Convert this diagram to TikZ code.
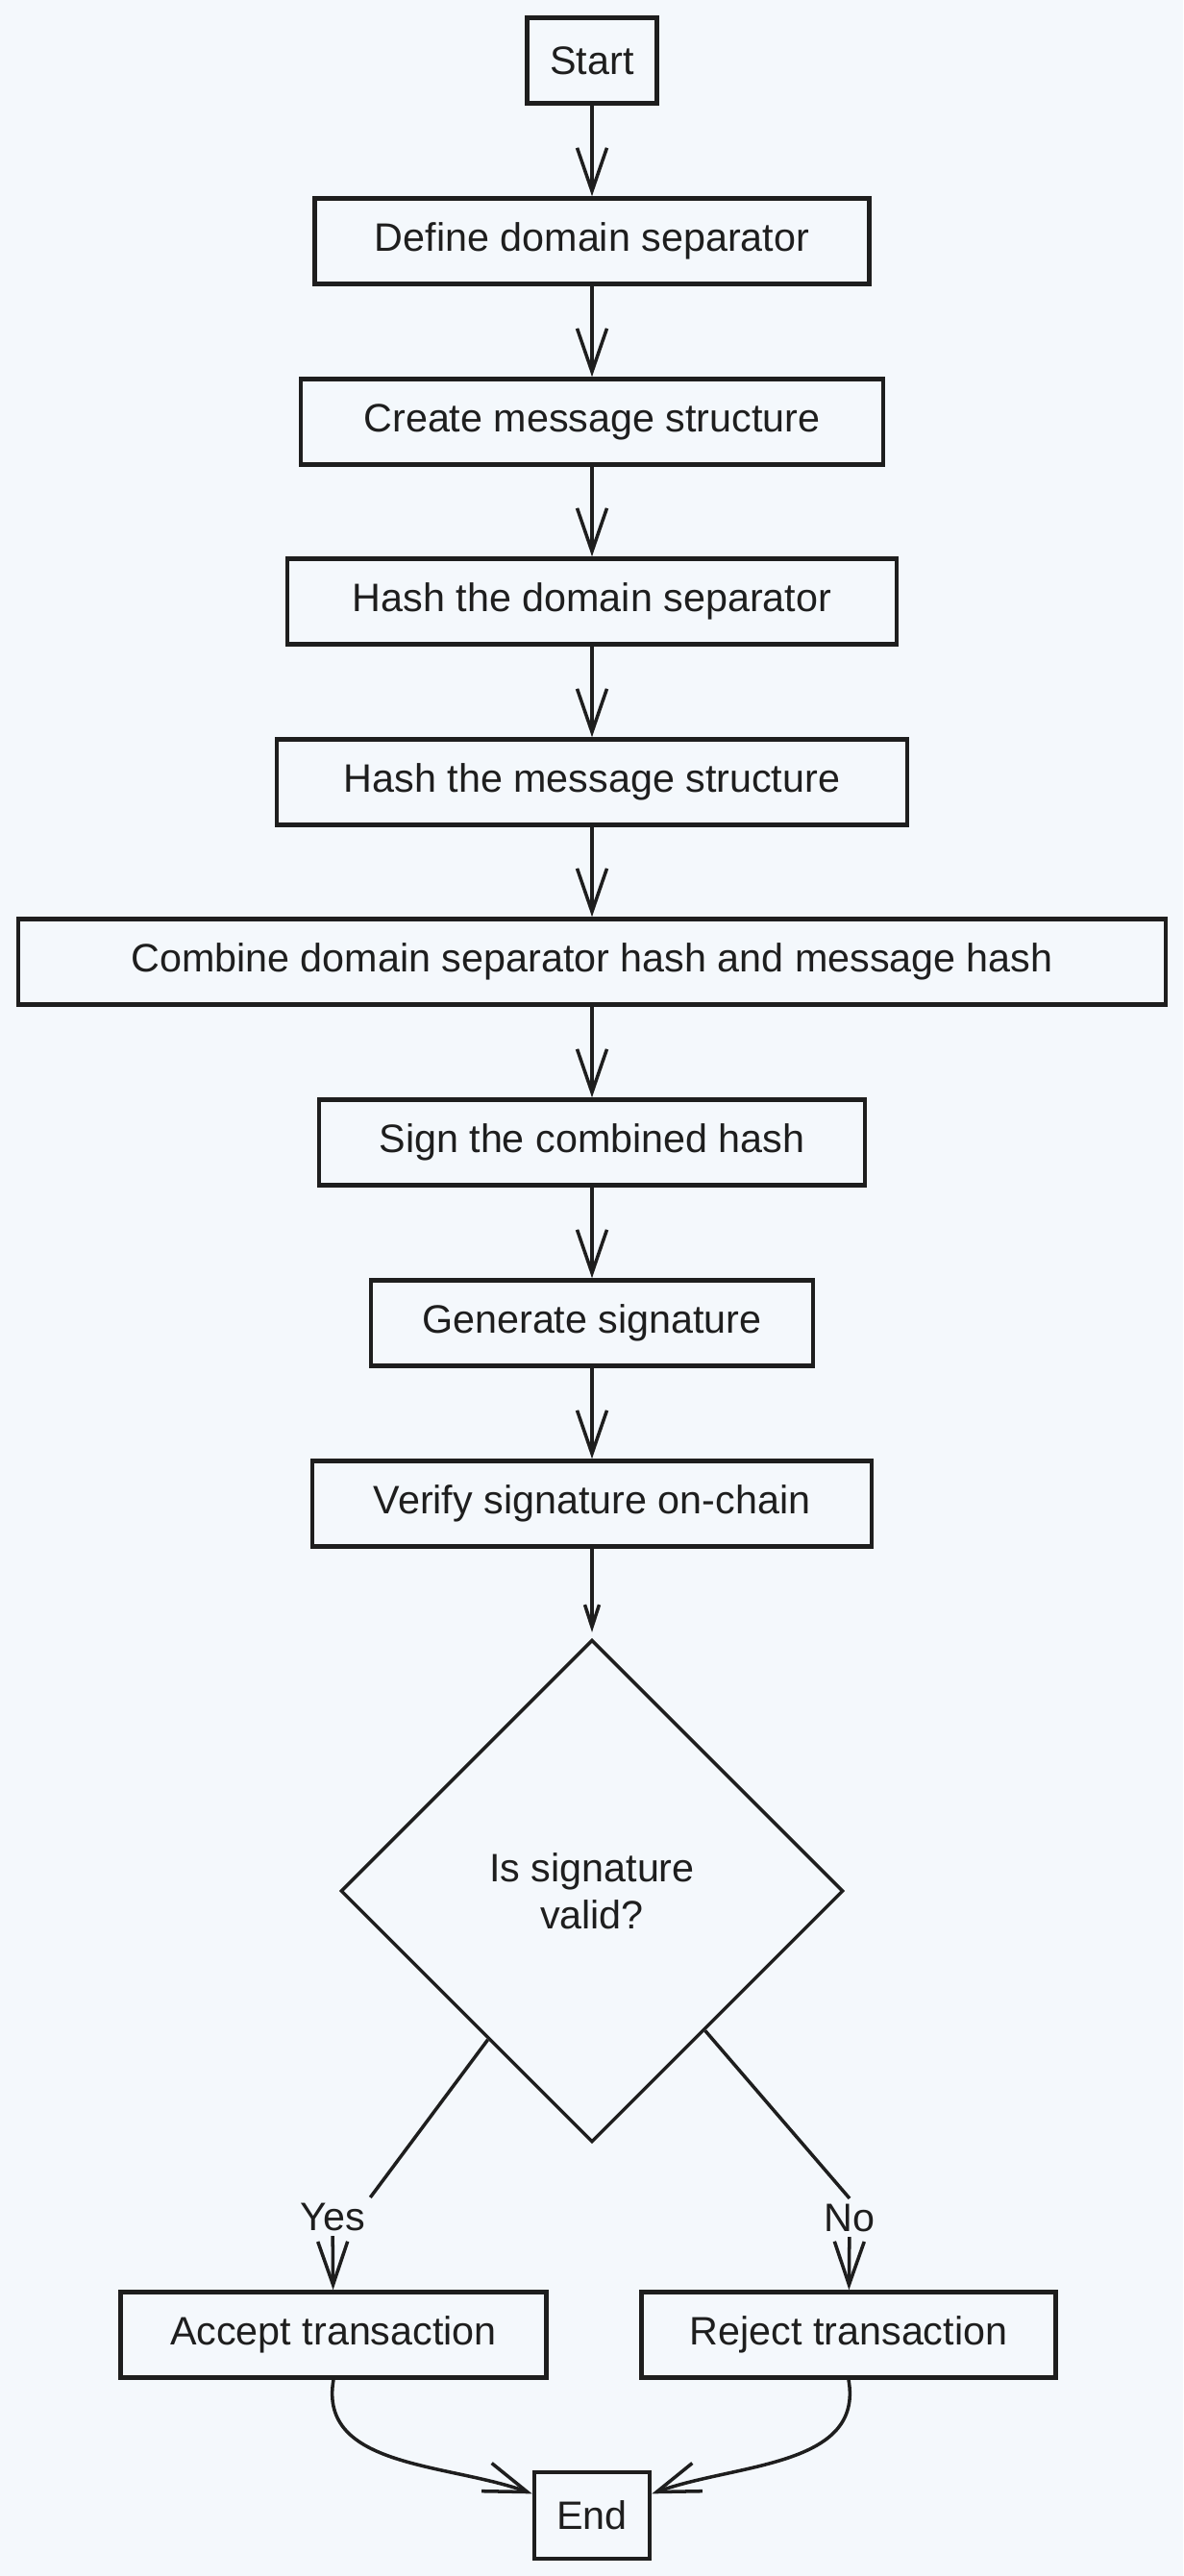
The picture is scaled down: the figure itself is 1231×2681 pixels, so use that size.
\documentclass[tikz,border=0pt]{standalone}
\usepackage{fontspec}
\setmainfont{Liberation Sans}
\usetikzlibrary{arrows.meta,shapes.geometric}
\definecolor{paper}{RGB}{244,248,252}
\definecolor{ink}{RGB}{30,30,30}
\tikzstyle{process}=[draw=ink,rectangle,line width=2.6pt,minimum height=1.78cm,inner sep=0pt,text=ink,font=\fontsize{23.5}{29}\selectfont]
\tikzstyle{terminal}=[process,minimum width=2.6cm]
\tikzstyle{decision}=[draw=ink,diamond,aspect=1,line width=2pt,minimum size=10.46cm,inner sep=0pt,align=center,text=ink,font=\fontsize{23.5}{28}\selectfont]
\tikzstyle{answer}=[inner sep=3pt,text=ink,font=\fontsize{23.5}{29}\selectfont]
\tikzstyle{link}=[draw=ink,line width=2pt,-]
\tikzstyle{flow}=[link,-{Straight Barb[length=0.9cm,width=0.62cm]}]
\tikzstyle{shortflow}=[link,-{Straight Barb[length=0.46cm,width=0.3cm]},shorten >=0.12cm]

\begin{document}
\begin{tikzpicture}[x=0.02cm,y=0.02cm]
                    \fill[paper] (0,0) rectangle (1231,-2681);

                    \node[terminal,minimum width=2.7cm] (start) at (616,-63) {Start};
                    \node[process,minimum width=11.54cm] (define) at (616,-251) {Define domain separator};
                    \node[process,minimum width=12.12cm] (create) at (616,-439) {Create message structure};
                    \node[process,minimum width=12.68cm] (hashdom) at (616,-626) {Hash the domain separator};
                    \node[process,minimum width=13.12cm] (hashmsg) at (616,-814) {Hash the message structure};
                    \node[process,minimum width=23.88cm] (combine) at (616,-1001) {Combine domain separator hash and message hash};
                    \node[process,minimum width=11.36cm] (sign) at (616,-1189) {Sign the combined hash};
                    \node[process,minimum width=9.2cm] (generate) at (616,-1377) {Generate signature};
                    \node[process,minimum width=11.64cm] (verify) at (616,-1565) {Verify signature on-chain};
                    \node[decision] (valid) at (616,-1968) {Is signature\\valid?};
                    \node[answer] (yes) at (346,-2307) {Yes};
                    \node[answer] (no) at (884,-2308) {No};
                    \node[process,minimum width=8.86cm] (accept) at (347,-2430) {Accept transaction};
                    \node[process,minimum width=8.62cm] (reject) at (883,-2430) {Reject transaction};
                    \node[terminal,minimum width=2.4cm,minimum height=1.8cm] (stop) at (616,-2618) {End};

                    \path[flow] (start) -- (define);
                    \path[flow] (define) -- (create);
                    \path[flow] (create) -- (hashdom);
                    \path[flow] (hashdom) -- (hashmsg);
                    \path[flow] (hashmsg) -- (combine);
                    \path[flow] (combine) -- (sign);
                    \path[flow] (sign) -- (generate);
                    \path[flow] (generate) -- (verify);
                    \path[shortflow] (verify) -- (valid);
                    \path[link] (valid.-125) -- (yes.north east);
                    \path[flow] (yes) -- (accept);
                    \path[link] (valid.-51) -- (no.north);
                    \path[flow] (no) -- (reject);
                    \path[flow] (accept.south) to[out=-100,in=160] (stop.160);
                    \path[flow] (reject.south) to[out=-80,in=20] (stop.20);

                    \pgfresetboundingbox
                    \path [use as bounding box] (0,0) rectangle (1231,-2681);
                \end{tikzpicture}
\end{document}
